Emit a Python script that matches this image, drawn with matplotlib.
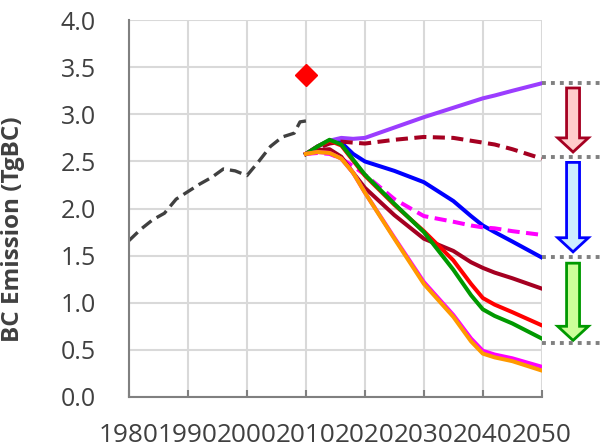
import matplotlib.pyplot as plt
from matplotlib.patches import FancyArrow

# historical emissions
hist_years = [1980, 1982, 1984, 1986, 1988, 1990, 1992, 1994, 1996, 1998, 2000,
              2002, 2004, 2006, 2008, 2009, 2010]
hist_vals = [1.66, 1.78, 1.88, 1.95, 2.10, 2.18, 2.26, 2.33, 2.42, 2.40, 2.35,
             2.50, 2.66, 2.76, 2.80, 2.92, 2.93]

obs_year = [2010]
obs_val = [3.42]

# scenarios
years = [2010, 2012, 2014, 2016, 2018, 2020, 2025, 2030, 2035, 2038, 2040, 2042, 2045, 2050]
purple = [2.58, 2.66, 2.72, 2.75, 2.74, 2.75, 2.86, 2.97, 3.07, 3.13, 3.17, 3.20, 3.25, 3.33]
darkred_dash = [2.58, 2.64, 2.69, 2.71, 2.70, 2.69, 2.73, 2.76, 2.75, 2.72, 2.70, 2.68, 2.63, 2.53]
blue = [2.58, 2.66, 2.72, 2.70, 2.58, 2.50, 2.40, 2.28, 2.08, 1.92, 1.82, 1.75, 1.65, 1.48]
magenta_dash = [2.58, 2.59, 2.58, 2.53, 2.45, 2.36, 2.10, 1.92, 1.86, 1.82, 1.80, 1.79, 1.76, 1.72]
darkred = [2.58, 2.62, 2.63, 2.55, 2.38, 2.22, 1.93, 1.68, 1.55, 1.43, 1.37, 1.32, 1.26, 1.15]
red = [2.58, 2.66, 2.72, 2.67, 2.51, 2.35, 2.04, 1.76, 1.45, 1.20, 1.05, 0.98, 0.90, 0.76]
green = [2.58, 2.66, 2.73, 2.68, 2.52, 2.36, 2.05, 1.75, 1.35, 1.08, 0.93, 0.86, 0.78, 0.62]
magenta = [2.58, 2.60, 2.59, 2.53, 2.38, 2.17, 1.69, 1.22, 0.87, 0.62, 0.49, 0.45, 0.41, 0.32]
orange = [2.58, 2.60, 2.59, 2.53, 2.38, 2.17, 1.68, 1.20, 0.85, 0.59, 0.46, 0.42, 0.38, 0.28]

# reference levels on the right and arrows between them
levels = [3.33, 2.545, 1.485, 0.575]
arrows = [(3.28, 2.6, "#FFCCCC", "#A50021"),
          (2.49, 1.54, "#CCECFF", "#0000FF"),
          (1.42, 0.60, "#CCFF99", "#009900")]

plt.rcParams['font.family'] = ['Open Sans', 'DejaVu Sans']

fig = plt.figure(figsize=(6, 4.48), dpi=100)
ax = fig.add_axes([0.215, 0.114, 0.688, 0.841])

lw = 2.9
ax.plot(hist_years, hist_vals, color="#404040", lw=2.4, ls=(0, (3.6, 1.8)))
ax.plot(years, blue, color="#0000FF", lw=lw)
ax.plot(years, purple, color="#9B3DFF", lw=lw)
ax.plot(years, darkred_dash, color="#A50021", lw=lw, ls=(0, (3, 1.6)))
ax.plot(years, magenta_dash, color="#FF00FF", lw=lw, ls=(0, (3, 1.6)))
ax.plot(years, darkred, color="#A50021", lw=lw)
ax.plot(years, red, color="#FF0000", lw=lw)
ax.plot(years, green, color="#009900", lw=lw)
ax.plot(years, magenta, color="#FF00FF", lw=lw)
ax.plot(years, orange, color="#FF9900", lw=lw)
ax.plot(obs_year, obs_val, marker="D", color="#FF0000", ms=11.5, ls="none")

for lv in levels:
    ax.plot([2050, 2060], [lv, lv], color="#808080", lw=2.8,
            ls=(0, (1, 1.3)), clip_on=False, solid_capstyle="butt")

for top, tip, fc, ec in arrows:
    ar = FancyArrow(2055.3, top, 0, tip - top, width=2.2, head_width=5.2,
                    head_length=0.15, length_includes_head=True,
                    fc=fc, ec=ec, lw=2, clip_on=False)
    ax.add_patch(ar)

ax.set_xlim(1980, 2050)
ax.set_ylim(0, 4)
ax.set_xticks(range(1980, 2051, 10))
ax.set_yticks([0, 0.5, 1, 1.5, 2, 2.5, 3, 3.5, 4])
ax.set_yticklabels(["0.0", "0.5", "1.0", "1.5", "2.0", "2.5", "3.0", "3.5", "4.0"])
ax.grid(True, color="#D9D9D9", lw=1.5)
ax.set_axisbelow(True)
for s in ["top", "right"]:
    ax.spines[s].set_visible(False)
for s in ["left", "bottom"]:
    ax.spines[s].set_color("#808080")
    ax.spines[s].set_linewidth(1.5)
ax.tick_params(axis="x", direction="in", length=5, width=1.5, color="#808080",
               labelsize=18.8, labelcolor="#404040", pad=19)
ax.tick_params(axis="y", length=0, labelsize=18, labelcolor="#404040", pad=24)
ax.set_ylabel("BC Emission (TgBC)", fontsize=17.5, fontweight="bold",
              color="#404040")
ax.yaxis.set_label_coords(-0.252, 0.445)

fig.savefig("out.png", dpi=100)
